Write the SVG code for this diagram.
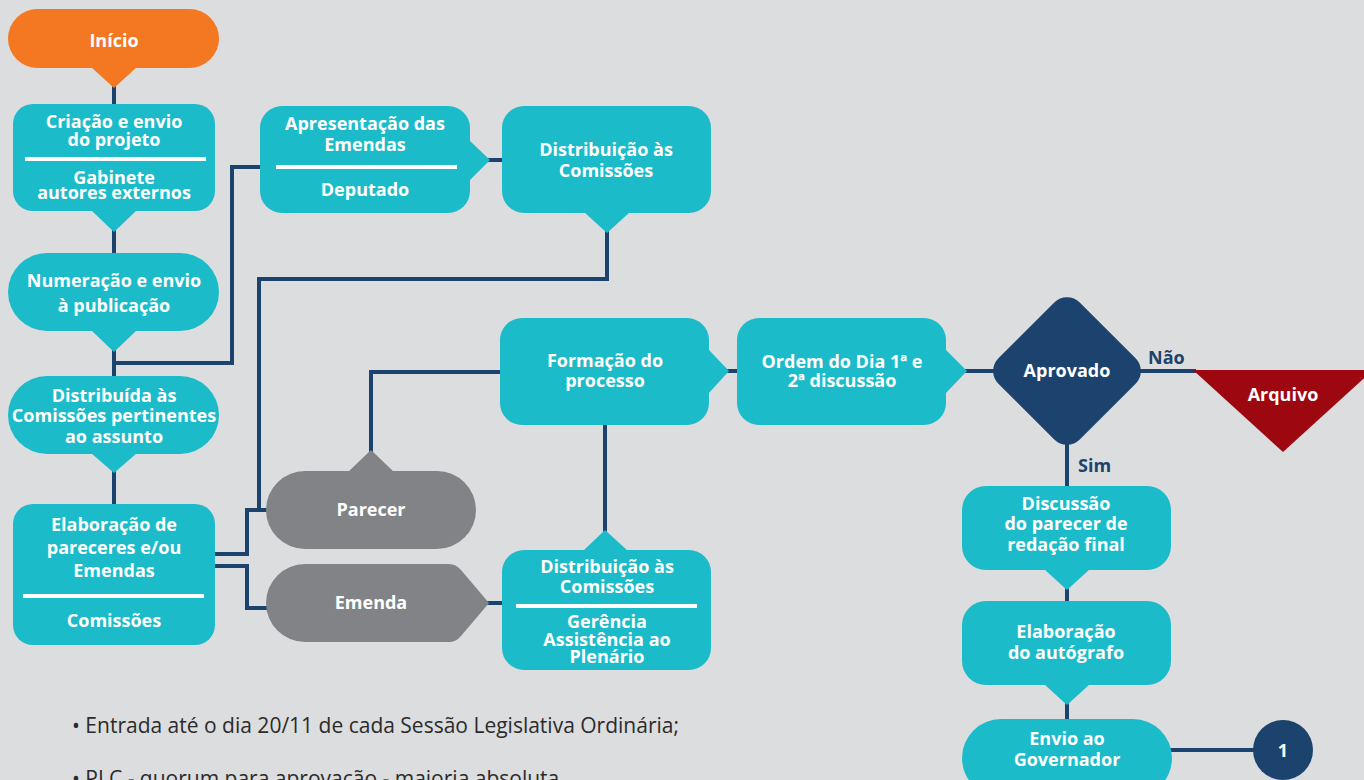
<svg xmlns="http://www.w3.org/2000/svg" width="1364" height="780" viewBox="0 0 1364 780">
<style>
.bg{fill:#DCDDDF}
.teal{fill:#1CBBC9}
.gray{fill:#828387}
.navy{fill:#1B436D}
.orange{fill:#F47821}
.red{fill:#9D0710}
.sep{stroke:#FFFFFF;stroke-width:4}
.conn{fill:none;stroke:#1B436D;stroke-width:4;stroke-linejoin:miter;stroke-linecap:butt}
text{font-family:"Open Sans","Noto Sans","DejaVu Sans",sans-serif}
.t{fill:#FFFFFF;font-weight:700;font-size:18px;text-anchor:middle}
.lbl{fill:#1B436D;font-weight:700;font-size:18px}
.note{fill:#2B2B2B;font-weight:400;font-size:21px}
</style>
<rect class="bg" x="0" y="0" width="1364" height="780"/>

<g id="connectors">
<path class="conn" d="M114,86 V106"/>
<path class="conn" d="M114,230 V255"/>
<path class="conn" d="M114,350 V378"/>
<path class="conn" d="M114,363 H232 V167 H262"/>
<path class="conn" d="M114,471 V506"/>
<path class="conn" d="M488,160 H503"/>
<path class="conn" d="M607,231 V279 H259 V510"/>
<path class="conn" d="M213,554 H247 V510 H268"/>
<path class="conn" d="M213,566 H247 V608 H268"/>
<path class="conn" d="M487,603 H504"/>
<path class="conn" d="M371,452 V372 H502"/>
<path class="conn" d="M605,423 V532"/>
<path class="conn" d="M727,371 H739"/>
<path class="conn" d="M965,371 H995"/>
<path class="conn" d="M1140,371 H1196"/>
<path class="conn" d="M1067,443 V488"/>
<path class="conn" d="M1067,588 V603"/>
<path class="conn" d="M1067,703 V721"/>
<path class="conn" d="M1170,750 H1255"/>
</g>

<g id="inicio">
<rect class="orange" x="8" y="9" width="211" height="59" rx="29.5"/>
<polygon class="orange" points="91,67 137,67 114,88"/>
<text class="t" x="114" y="47">Início</text>
</g>

<g id="criacao">
<rect class="teal" x="13" y="104" width="202" height="107" rx="20"/>
<polygon class="teal" points="91,210 137,210 114,232"/>
<text class="t" x="114" y="128">Criação e envio</text>
<text class="t" x="114" y="146">do projeto</text>
<line class="sep" x1="25" y1="159" x2="206" y2="159"/>
<text class="t" x="114" y="184">Gabinete</text>
<text class="t" x="114" y="199">autores externos</text>
</g>

<g id="numeracao">
<rect class="teal" x="8" y="253" width="211" height="78" rx="39"/>
<polygon class="teal" points="91,330 137,330 114,352"/>
<text class="t" x="114" y="287">Numeração e envio</text>
<text class="t" x="114" y="312">à publicação</text>
</g>

<g id="distribuida">
<rect class="teal" x="8" y="376" width="211" height="78" rx="39"/>
<polygon class="teal" points="91,453 137,453 114,473"/>
<text class="t" x="114" y="402">Distribuída às</text>
<text class="t" x="114" y="422">Comissões pertinentes</text>
<text class="t" x="114" y="443">ao assunto</text>
</g>

<g id="elaboracao-pareceres">
<rect class="teal" x="13" y="504" width="202" height="141" rx="20"/>
<text class="t" x="114" y="531">Elaboração de</text>
<text class="t" x="114" y="554">pareceres e/ou</text>
<text class="t" x="114" y="577">Emendas</text>
<line class="sep" x1="23" y1="596" x2="204" y2="596"/>
<text class="t" x="114" y="627">Comissões</text>
</g>

<g id="apresentacao">
<rect class="teal" x="260" y="106" width="210" height="107" rx="22"/>
<polygon class="teal" points="469,140 490,160 469,181"/>
<text class="t" x="365" y="130">Apresentação das</text>
<text class="t" x="365" y="151">Emendas</text>
<line class="sep" x1="276" y1="167" x2="457" y2="167"/>
<text class="t" x="365" y="196">Deputado</text>
</g>

<g id="distribuicao-top">
<rect class="teal" x="502" y="106" width="209" height="107" rx="22"/>
<polygon class="teal" points="584,212 630,212 607,233"/>
<text class="t" x="606" y="156">Distribuição às</text>
<text class="t" x="606" y="177">Comissões</text>
</g>

<g id="formacao">
<rect class="teal" x="500" y="318" width="209" height="107" rx="22"/>
<polygon class="teal" points="708,349 729,371 708,394"/>
<text class="t" x="605" y="367">Formação do</text>
<text class="t" x="605" y="387">processo</text>
</g>

<g id="ordem">
<rect class="teal" x="737" y="318" width="209" height="107" rx="22"/>
<polygon class="teal" points="945,349 967,371 945,394"/>
<text class="t" x="842" y="368">Ordem do Dia 1ª e</text>
<text class="t" x="842" y="387">2ª discussão</text>
</g>

<g id="aprovado">
<rect class="navy" x="1009.5" y="313.5" width="115" height="115" rx="18" transform="rotate(45 1067 371)"/>
<text class="t" x="1067" y="377">Aprovado</text>
</g>
<text class="lbl" x="1148" y="364">Não</text>
<text class="lbl" x="1078" y="472">Sim</text>

<g id="arquivo">
<polygon class="red" points="1193,370 1373,370 1283,452"/>
<text class="t" x="1283" y="401">Arquivo</text>
</g>

<g id="parecer">
<rect class="gray" x="266" y="471" width="210" height="78" rx="39"/>
<polygon class="gray" points="348,472 394,472 371,450"/>
<text class="t" x="371" y="516">Parecer</text>
</g>

<g id="emenda">
<path class="gray" d="M305,564 H449 Q456,564 461,570 L489,603 L461,636 Q456,642 449,642 H305 A39,39 0 0 1 305,564 Z"/>
<text class="t" x="371" y="609">Emenda</text>
</g>

<g id="distribuicao-bottom">
<rect class="teal" x="502" y="550" width="209" height="120" rx="22"/>
<polygon class="teal" points="583,551 628,551 605,530"/>
<text class="t" x="607" y="573">Distribuição às</text>
<text class="t" x="607" y="593">Comissões</text>
<line class="sep" x1="516" y1="606" x2="697" y2="606"/>
<text class="t" x="607" y="628">Gerência</text>
<text class="t" x="607" y="646">Assistência ao</text>
<text class="t" x="607" y="663">Plenário</text>
</g>

<g id="discussao">
<rect class="teal" x="962" y="486" width="209" height="84" rx="24"/>
<polygon class="teal" points="1044,569 1090,569 1067,590"/>
<text class="t" x="1066" y="510">Discussão</text>
<text class="t" x="1066" y="530">do parecer de</text>
<text class="t" x="1066" y="551">redação final</text>
</g>

<g id="autografo">
<rect class="teal" x="962" y="601" width="209" height="84" rx="24"/>
<polygon class="teal" points="1044,684 1090,684 1067,705"/>
<text class="t" x="1066" y="638">Elaboração</text>
<text class="t" x="1066" y="659">do autógrafo</text>
</g>

<g id="envio">
<rect class="teal" x="962" y="719" width="210" height="78" rx="39"/>
<text class="t" x="1067" y="745">Envio ao</text>
<text class="t" x="1067" y="766">Governador</text>
</g>

<g id="conector-1">
<circle class="navy" cx="1283" cy="750" r="30"/>
<text class="t" x="1283" y="757">1</text>
</g>

<g id="notas">
<text class="note" x="72" y="733">• Entrada até o dia 20/11 de cada Sessão Legislativa Ordinária;</text>
<text class="note" x="72" y="786">• PLC - quorum para aprovação  - maioria absoluta.</text>
</g>
</svg>
